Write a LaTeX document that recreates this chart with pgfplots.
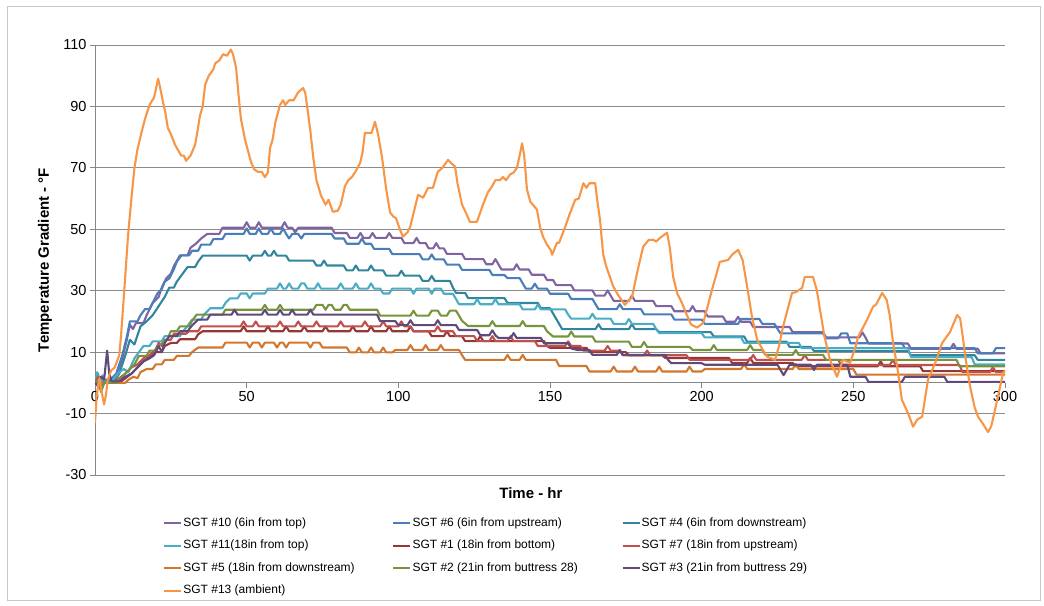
\documentclass[border=0pt]{standalone}
\usepackage{fontspec}
\setmainfont{Liberation Sans}
\usepackage{pgfplots}
\pgfplotsset{compat=1.18}
\definecolor{cA}{HTML}{8064A2}
\definecolor{cB}{HTML}{4A7EBB}
\definecolor{cC}{HTML}{31859C}
\definecolor{cD}{HTML}{4BACC6}
\definecolor{cE}{HTML}{953735}
\definecolor{cF}{HTML}{C0504D}
\definecolor{cG}{HTML}{D2772E}
\definecolor{cH}{HTML}{77933C}
\definecolor{cI}{HTML}{604A7B}
\definecolor{cJ}{HTML}{F79646}
\definecolor{axisgray}{HTML}{868686}
\definecolor{gridgray}{HTML}{8C8C8C}
\definecolor{bordergray}{HTML}{C8C8C8}
\begin{document}
\begin{tikzpicture}[x=1pt,y=1pt]
\path[use as bounding box] (0,0) rectangle (1044,605);
\draw[draw=bordergray, line width=0.8pt] (7,5) rectangle (1040,599);
\begin{axis}[
 at={(95pt,130pt)}, anchor=south west, scale only axis, width=910pt, height=430pt,
 xmin=0,xmax=300,ymin=-30,ymax=110,
 axis x line=middle, axis y line=left,
 axis line style={-, draw=axisgray, line width=0.8pt},
 hide obscured x ticks=false,
 xtick={0,50,...,300}, xticklabels={0,50,100,150,200,250,300},
 ytick={-30,-10,...,110}, yticklabels={-30,-10,10,30,50,70,90,110},
 ymajorgrids, grid style={draw=gridgray, line width=0.8pt},
 tick align=outside, major tick length=5pt, tick style={draw=axisgray, line width=0.8pt},
 tick label style={font=\fontsize{14.5}{16}\selectfont, text=black},
 every axis x label/.style={at={(axis description cs:0.479,-0.02)}, anchor=north, font=\bfseries\fontsize{15}{17}\selectfont},
 every axis y label/.style={at={(axis description cs:-0.055,0.5)}, rotate=90, anchor=center, font=\bfseries\fontsize{15}{17}\selectfont},
 xlabel={Time - hr}, ylabel={Temperature Gradient - °F},
 legend columns=3,
 legend style={draw=none, fill=none, at={(axis description cs:0.0747,-0.0953)}, anchor=north west, inner sep=0pt, font=\fontsize{12}{14}\selectfont, nodes={inner sep=1pt, text height=9pt, text depth=3pt}, row sep=8.5pt},
 legend cell align=left,
 every axis plot/.append style={line width=2.1pt, line join=round},
]
\addplot[color=cA] coordinates {(0,0)(1,1.5)(2,-2)(3,0.5)(5,0.5)(7,2)(9,8)(10.5,14)(11.5,19)(12.5,17.5)(13.5,19.5)(16,19.5)(17,22)(19,26)(21,28)(22,31)(23.5,34)(25,35.5)(26,38)(28,41.5)(30.5,41.5)(31.5,44)(33.5,45.5)(35,47)(37,48.5)(41,48.5)(42,50.5)(49,50.5)(50,52.3)(51,50.5)(53,50.5)(54,52.3)(55,50.5)(61.5,50.5)(62.5,52.3)(63.5,50.5)(65,50.5)(66,49)(67,50.5)(78,50.5)(79,48.8)(83,48.8)(84,47.2)(86.5,47.2)(87.5,48.8)(88.5,47.2)(90.5,47.2)(91.5,48.8)(92.5,47.2)(96,47.2)(97,48.8)(98,47.2)(101,47.2)(102,45.5)(105,45.5)(106,47.2)(107,45.5)(109,45.5)(110,43.8)(111.5,43.8)(112.5,45.5)(113.5,43.8)(115,43.8)(116,42)(121,42)(122,40.3)(128,40.3)(129,38.6)(131,38.6)(132,40.3)(133,38.6)(134,36.9)(138,36.9)(139,38.6)(140,36.9)(143,36.9)(144,35.2)(148,35.2)(149,33.5)(151,33.5)(152,31.8)(157,31.8)(158,30.1)(164,30.1)(165,28.4)(168,28.4)(169,30.1)(170,28.4)(171,26.7)(176,26.7)(177,28.4)(178,26.7)(184,26.7)(185,25)(190,25)(191,23.3)(196,23.3)(197,25)(198,23.3)(201,23.3)(202,21.6)(207,21.6)(208,19.9)(211,19.9)(212,21.5)(213,19.9)(216,19.9)(217,18.2)(229,18.2)(230,16.5)(240,16.5)(241,14.8)(252,14.8)(253,16.4)(254,14.8)(255,12.8)(268,12.8)(269,11.1)(282,11.1)(283,12.7)(284,11.1)(291,11.1)(292,9.6)(300,9.6)};
\addlegendentry{\makebox[208pt][l]{SGT \#10 (6in from top)}}
\addplot[color=cB] coordinates {(0,0)(1,2)(2,-1)(3,1)(5,1)(7,3)(9,9)(10.5,15)(11.5,20)(14,20)(15,22)(16.5,24)(18,24)(19,26)(20.5,29)(22,30.5)(23,33)(24.5,34)(26,37)(27,39.5)(28.5,41.5)(31,41.5)(32,43)(34,43)(35,45)(38,45)(39,46.8)(42,46.8)(43,48.5)(49,48.5)(50,50.3)(51,48.5)(53,48.5)(54,50.3)(55,48.5)(57,48.5)(58,50.3)(59,48.5)(61,48.5)(62,50.3)(63,48.5)(64,47)(65,48.5)(67,48.5)(68,47)(69,48.5)(78,48.5)(79,47)(82,47)(83,45.3)(87,45.3)(88,47)(89,45.3)(91,45.3)(92,43.6)(97,43.6)(98,41.9)(107,41.9)(108,40.2)(110,40.2)(111,41.8)(112,40.2)(115,40.2)(116,38.5)(120,38.5)(121,36.8)(130,36.8)(131,35.1)(135,35.1)(136,34.1)(140,34.1)(141,32.4)(142,30.7)(144,30.7)(145,32.3)(146,30.7)(149,30.7)(150,29)(156,29)(157,27.3)(164,27.3)(165,25.6)(166,24)(172,24)(173,25.6)(174,24)(180,24)(181,22.3)(190,22.3)(191,20.6)(200,20.6)(201,19.2)(212,19.2)(213,20.8)(219,20.8)(220,19.2)(224,19.2)(225,17.6)(226,16.1)(240,16.1)(241,14.5)(245,14.5)(246,16.1)(248,16.1)(249,12.9)(266,12.9)(267,11.3)(290,11.3)(291,9.6)(296,9.6)(297,11.3)(300,11.3)};
\addlegendentry{\makebox[208pt][l]{SGT \#6 (6in from upstream)}}
\addplot[color=cC] coordinates {(0,0)(1,3)(2,-2)(3,0)(6,0)(8,3)(10,9)(11.5,14)(13,12.5)(15,18.4)(17,20)(19,22)(21,25)(23,28)(24.5,31)(26,31)(27,33)(28.5,35)(30.5,37.7)(33,37.7)(34,39.5)(35.5,41.4)(50,41.4)(51,39.8)(52,41.4)(55,41.4)(56,43)(57,41.4)(58,41.4)(59,43)(60,41.4)(63,41.4)(64,39.8)(72,39.8)(73,38.2)(74.5,38.2)(75.5,39.8)(76.5,38.2)(82,38.2)(83,36.6)(85,36.6)(86,38.2)(87,36.6)(90,36.6)(91,38.2)(92,36.6)(95,36.6)(96,34.9)(100,34.9)(101,36.5)(102,34.9)(107,34.9)(108,33.2)(110,33.2)(111,34.8)(112,33.2)(117,33.2)(118,31)(119,29.3)(122,29.3)(123,27.6)(135,27.6)(136,26)(146,26)(147,24.3)(150,24.3)(151,22.6)(152,20.9)(153,19.2)(154,17.5)(165,17.5)(166,19.1)(167,17.5)(176,17.5)(177,19.1)(178,17.5)(185,17.5)(186,16.5)(203,16.5)(204,15.1)(214,15.1)(215,13.4)(228,13.4)(229,11.7)(236,11.7)(237,10.4)(268,10.4)(269,9)(290,9)(291,7.5)(300,7.5)};
\addlegendentry{\makebox[208pt][l]{SGT \#4 (6in from downstream)}}
\addplot[color=cD] coordinates {(0,0)(0.7,3.5)(1.5,-1)(2.5,2.5)(3.5,0)(5,0)(8,3.5)(9.5,4.5)(11,3.5)(13,8)(16,12)(18,12)(19,13.5)(22,13.5)(23,15.2)(28,15.2)(29,16.8)(30.5,18.5)(32,20.6)(35,20.6)(36,22.3)(38,24.3)(42,24.3)(43,26)(44.5,27.5)(47,27.5)(48,29.1)(50,29.1)(51,27.5)(52,29.1)(56,29.1)(57,30.7)(60,30.7)(61,32.4)(62,30.7)(63,30.7)(64,32.4)(65,30.7)(67,30.7)(68,32.4)(69,32.4)(70,30.7)(72.5,30.7)(73.5,32.4)(74.5,30.7)(80,30.7)(81,32.4)(82,30.7)(85,30.7)(86,32.4)(87,30.7)(90,30.7)(91,32.4)(92,30.7)(94,30.7)(95,29.1)(97,29.1)(98,30.7)(104,30.7)(105,29)(106,30.7)(110,30.7)(111,29)(112,30.7)(114,30.7)(115,29)(118,29)(119,27.3)(120,25.6)(125,25.6)(126,27.3)(127,25.6)(131,25.6)(132,27.3)(133,25.6)(140,25.6)(141,23.9)(145,23.9)(146,25.5)(147,23.9)(155,23.9)(156,22.2)(157,20.9)(163,20.9)(164,22.5)(165,20.9)(170,20.9)(171,19.2)(175,19.2)(176,20.8)(177,19.2)(184,19.2)(185,17.5)(186,16.2)(200,16.2)(201,14.8)(213,14.8)(214,13)(232,13)(233,11.3)(268,11.3)(269,8.4)(289,8.4)(290,6)(300,6)};
\addlegendentry{\makebox[208pt][l]{SGT \#11(18in from top)}}
\addplot[color=cE] coordinates {(0,0)(1,1)(2,-2)(3,0)(8,0)(10,1.5)(12,3)(14,5)(16,7)(18,8.5)(20,10)(22,10)(23,12)(25,13)(27,13)(28,14.2)(33,14.2)(34,15.8)(35.5,16.8)(48,16.8)(49,18.4)(50,16.8)(56,16.8)(57,18.4)(58,16.8)(62,16.8)(63,18.4)(64,16.8)(68,16.8)(69,18.4)(70,16.8)(75,16.8)(76,18.4)(77,16.8)(84,16.8)(85,18.4)(86,16.8)(90,16.8)(91,18.4)(92,16.8)(96,16.8)(97,18.4)(98,16.8)(103,16.8)(104,18.4)(105,16.8)(110,16.8)(111,15.2)(115,15.2)(116,16.8)(117,15.2)(121,15.2)(122,13.6)(126,13.6)(127,15.2)(128,13.6)(148,13.6)(149,12)(150,11.4)(162,11.4)(163,10)(175,10)(176,9)(187,9)(188,8.1)(209,8.1)(210,6.5)(215,6.5)(216,8.1)(217,6.5)(230,6.5)(231,5.4)(258,5.4)(259,7)(260,5.4)(272,5.4)(273,3.8)(300,3.8)};
\addlegendentry{\makebox[208pt][l]{SGT \#1 (18in from bottom)}}
\addplot[color=cF] coordinates {(0,0)(1,2)(2,-1)(3,0)(6,0)(8,1.5)(10,3)(12,5)(14,6)(16,8)(18,9)(20,11)(21,13)(22,12)(23,14)(25,14)(26,16)(30,16)(31,16.8)(34,16.8)(35,18.4)(48,18.4)(49,20)(50,18.4)(52,18.4)(53,20)(54,18.4)(60,18.4)(61,20)(62,18.4)(66,18.4)(67,20)(68,18.4)(72,18.4)(73,20)(74,18.4)(80,18.4)(81,20)(82,18.4)(88,18.4)(89,20)(90,18.4)(94,18.4)(95,20)(96,18.4)(100,18.4)(101,20)(102,18.4)(104,18.4)(105,16.8)(112,16.8)(113,18.4)(114,16.8)(118,16.8)(119,15.2)(125,15.2)(126,13.6)(130,13.6)(131,15.2)(132,13.6)(136,13.6)(137,15.2)(138,13.6)(145,13.6)(146,12)(155,12)(156,13.5)(157,12)(160,12)(161,10.5)(168,10.5)(169,12)(170,10.5)(173,10.5)(174,9)(181,9)(182,10.5)(183,9)(195,9)(196,7.5)(216,7.5)(217,9.1)(218,7.5)(233,7.5)(234,9.1)(235,7.5)(245,7.5)(246,5.8)(262,5.8)(263,7.4)(264,5.8)(285,5.8)(286,3.5)(295,3.5)(296,5.1)(297,3.5)(300,3.5)};
\addlegendentry{\makebox[208pt][l]{SGT \#7 (18in from upstream)}}
\addplot[color=cG] coordinates {(0,0)(1,-1)(2,0)(10,0)(11,1)(12.7,2)(14,1.5)(15,3.5)(17,4.5)(19,4.5)(20,6)(22,6)(23,7.5)(26,7.5)(27,8.8)(31,8.8)(32,10)(34,11.5)(42,11.5)(43,13.1)(50,13.1)(51,11.5)(52,13.1)(54,13.1)(55,11.5)(56,13.1)(59,13.1)(60,11.5)(61,13.1)(62,13.1)(63,11.5)(64,13.1)(70,13.1)(71,11.5)(72,13.1)(74,13.1)(75,11.5)(83,11.5)(84,9.9)(86,9.9)(87,11.5)(88,9.9)(90,9.9)(91,11.5)(92,9.9)(94,9.9)(95,11.5)(96,9.9)(98,9.9)(99,10.7)(103,10.7)(104,12.3)(105,10.7)(108,10.7)(109,12.3)(110,10.7)(113,10.7)(114,12.3)(115,10.7)(120,10.7)(121,9)(122,7.5)(135,7.5)(136,9.1)(137,7.5)(140,7.5)(141,9.1)(142,7.5)(152,7.5)(153,5.5)(162,5.5)(163,3.7)(170,3.7)(171,5.3)(172,3.7)(177,3.7)(178,5.3)(179,3.7)(185,3.7)(186,5.3)(187,3.7)(195,3.7)(196,5.3)(197,3.7)(200,3.7)(201,4.5)(213,4.5)(214,6.1)(215,4.5)(230,4.5)(231,6.1)(232,4.5)(250,4.5)(251,2.7)(300,2.7)};
\addlegendentry{\makebox[208pt][l]{SGT \#5 (18in from downstream)}}
\addplot[color=cH] coordinates {(0,0)(1,1)(2,-3)(3,0)(7,0)(9,2)(11,4)(13,6)(14.5,8.8)(17,8.8)(18,10.5)(20,10.5)(21,12.2)(22.5,13.1)(24,14.5)(25,16.8)(27,16.8)(28,18.4)(31,18.4)(32,20.2)(33.5,22.2)(42,22.2)(43,23.8)(55,23.8)(56,25.4)(57,23.8)(60,23.8)(61,25.4)(62,23.8)(72,23.8)(73,25.4)(75,25.4)(76,23.8)(77,25.4)(78,25.4)(79,23.8)(81,23.8)(82,25.4)(83,25.4)(84,23.8)(93,23.8)(94,21.9)(104,21.9)(105,23.5)(106,21.9)(110,21.9)(111,23.5)(113,23.5)(114,21.9)(116,21.9)(117,23.5)(119,23.5)(120,21.9)(121,20.2)(123,18.5)(130,18.5)(131,20.1)(132,18.5)(140,18.5)(141,20.1)(142,18.5)(148,18.5)(149,16.8)(151,15.1)(156,15.1)(157,16.7)(158,15.1)(164,15.1)(165,13.4)(176,13.4)(177,11.7)(180,11.7)(181,13.3)(182,11.7)(196,11.7)(197,10.7)(203,10.7)(204,12.3)(205,10.7)(215,10.7)(216,12.3)(217,10.7)(220,10.7)(221,9.1)(230,9.1)(231,10.7)(232,9.1)(240,9.1)(241,7.5)(284,7.5)(285,5.4)(300,5.4)};
\addlegendentry{\makebox[208pt][l]{SGT \#2 (21in from buttress 28)}}
\addplot[color=cI] coordinates {(0,0)(1,-1)(2,2)(3,1)(4,10.5)(4.7,3)(5.5,0.5)(8,0.5)(10,2)(12,3)(14,5)(16,7)(18,8)(19.5,9)(21,12)(22,10)(23,13)(24.5,15.2)(27,15.2)(28,16.8)(30.5,16.8)(32,18.7)(34,20.6)(37,20.6)(38,22.2)(45,22.2)(46,23.8)(47,22.2)(55,22.2)(56,23.8)(57,22.2)(60,22.2)(61,23.8)(62,22.2)(64,22.2)(65,23.8)(66,22.2)(70,22.2)(71,23.8)(72,22.2)(93,22.2)(94,20.1)(99,20.1)(100,18.8)(103,18.8)(104,20.4)(105,18.8)(112,18.8)(113,20.4)(114,18.8)(119,18.8)(120,17.2)(126,17.2)(127,15.5)(130,15.5)(131,17.1)(132,15.5)(133,14.6)(137,14.6)(138,16.2)(139,14.6)(147,14.6)(148,12.9)(156,12.9)(157,11.2)(159,10.7)(163,10.7)(164,9.1)(172,9.1)(173,10.7)(174,9.1)(188,9.1)(189,7.4)(190,6.4)(200,6.4)(201,5.9)(225,5.9)(226,4.2)(227,2.5)(228,4.2)(229,5.9)(236,5.9)(237,4.2)(238,5.9)(248,5.9)(249,2)(254,2)(255,0.3)(266,0.3)(267,2)(280,2)(281,0.3)(300,0.3)};
\addlegendentry{\makebox[208pt][l]{SGT \#3 (21in from buttress 29)}}
\addplot[color=cJ] coordinates {(0,-13)(0.5,-5)(1,-1)(1.5,1.5)(2.2,-3)(3,-7)(3.6,-4)(4.2,1)(5.3,4)(6.5,5)(8,9)(8.6,15.6)(9.5,28)(10.9,48)(12,60)(13,70)(14,76)(15.2,81)(16.5,86)(18,90.5)(19.5,93)(20.8,99)(21.5,96)(22.4,91.5)(23.2,88)(24,83)(25,81)(26.4,77.5)(28.4,74)(29.3,74)(30,72.3)(31.5,74)(33,77.5)(33.8,82)(34.6,87)(35.5,90)(36.3,97)(37.5,100)(39,102)(39.6,104)(41,105)(42.2,107)(43.5,106.5)(44.8,108.5)(45.5,107)(46.5,102.6)(47.3,94)(48.1,86)(49.5,79)(51.4,72)(52.5,69.5)(53.7,68.7)(55,68.7)(56,67)(57,68.5)(57.7,76.5)(58.5,79)(59.5,85)(61,90.5)(62,92)(62.7,90.5)(64,92)(65.5,92)(66.9,94.5)(68.6,96)(69.3,94.5)(70.2,88)(71,82)(72,73)(73,66)(74.5,61)(76,58)(77,59.6)(78.4,55.7)(80,56)(81,58)(82.4,64)(83.5,66)(84.7,67)(86,69)(87.4,71.6)(88.2,75)(89,81.4)(91.2,81.4)(92.3,85)(93.3,81)(94.6,73.6)(96,63)(97.3,55.4)(98.5,54)(99.2,53.7)(100.5,50)(101.5,47.6)(103,49)(103.9,50.8)(105.2,56)(106.5,61.2)(108.2,60.3)(109.8,63.5)(111.4,63.5)(113,68.7)(114.5,70)(116.4,72.6)(117.5,71.5)(118.7,70.4)(119.5,65)(121,58)(122,56)(123.6,52.4)(125.9,52.4)(127.9,58)(129.5,62)(130.9,64)(132,66)(133.5,66)(134.5,67)(135.5,66)(136.8,67.8)(138,68.5)(139.1,70)(140.2,75)(140.8,78)(141.5,74)(142.4,63)(143.5,59)(145.7,56.4)(146.7,50.8)(147.7,47.6)(149,45)(150.2,43.3)(150.7,41.7)(152.3,45.6)(153,45.6)(155,50.8)(156.5,55)(158.3,59.6)(159.5,60)(161,65)(162,63.5)(163,65)(164.9,65)(165.5,60)(166.5,53)(167.5,42)(168.5,38)(170.8,31.5)(172.5,28.5)(174.7,25.4)(176,27)(177,27.7)(178.7,35.8)(180.7,44.3)(182.5,46.5)(184,46.6)(185,46)(186.3,47.2)(188.6,48.9)(189.5,44)(190.6,34.5)(192,29)(193.5,26)(195.1,22.1)(196.5,19)(198.5,18)(200.5,19.5)(202,25)(203.4,30.3)(206,39.4)(208.7,40)(210,41.7)(212,43.3)(213.5,40)(215,31.3)(216.5,22)(218.3,14)(220,11)(221.6,8.5)(224.2,7.5)(225.5,12)(226.8,18.2)(229.8,29.3)(231,29.5)(233.1,30.9)(234,34.5)(236.7,34.5)(238,30)(239,23.8)(240.5,15)(242.3,7.5)(244.6,2)(246.6,7.5)(248.9,6.5)(250.5,11)(251.6,15)(254.5,20.5)(256.5,24.8)(257.5,25.5)(259.5,29.3)(261,27)(262,22)(263.1,13)(264.5,5)(266,-5.5)(268,-9.8)(269.7,-14.3)(271,-12)(272.7,-11)(274.6,1)(277,6.5)(279.3,13)(281.9,16.6)(284.2,22.1)(285.2,21)(285.9,16.3)(287,8)(288.5,-1.3)(290,-8)(291.1,-11)(292.5,-13)(294.4,-16)(295.5,-14)(296.7,-8.8)(298,-3)(299.4,3.3)(300,4)};
\addlegendentry{\makebox[208pt][l]{SGT \#13 (ambient)}}
\end{axis}
\end{tikzpicture}
\end{document}
